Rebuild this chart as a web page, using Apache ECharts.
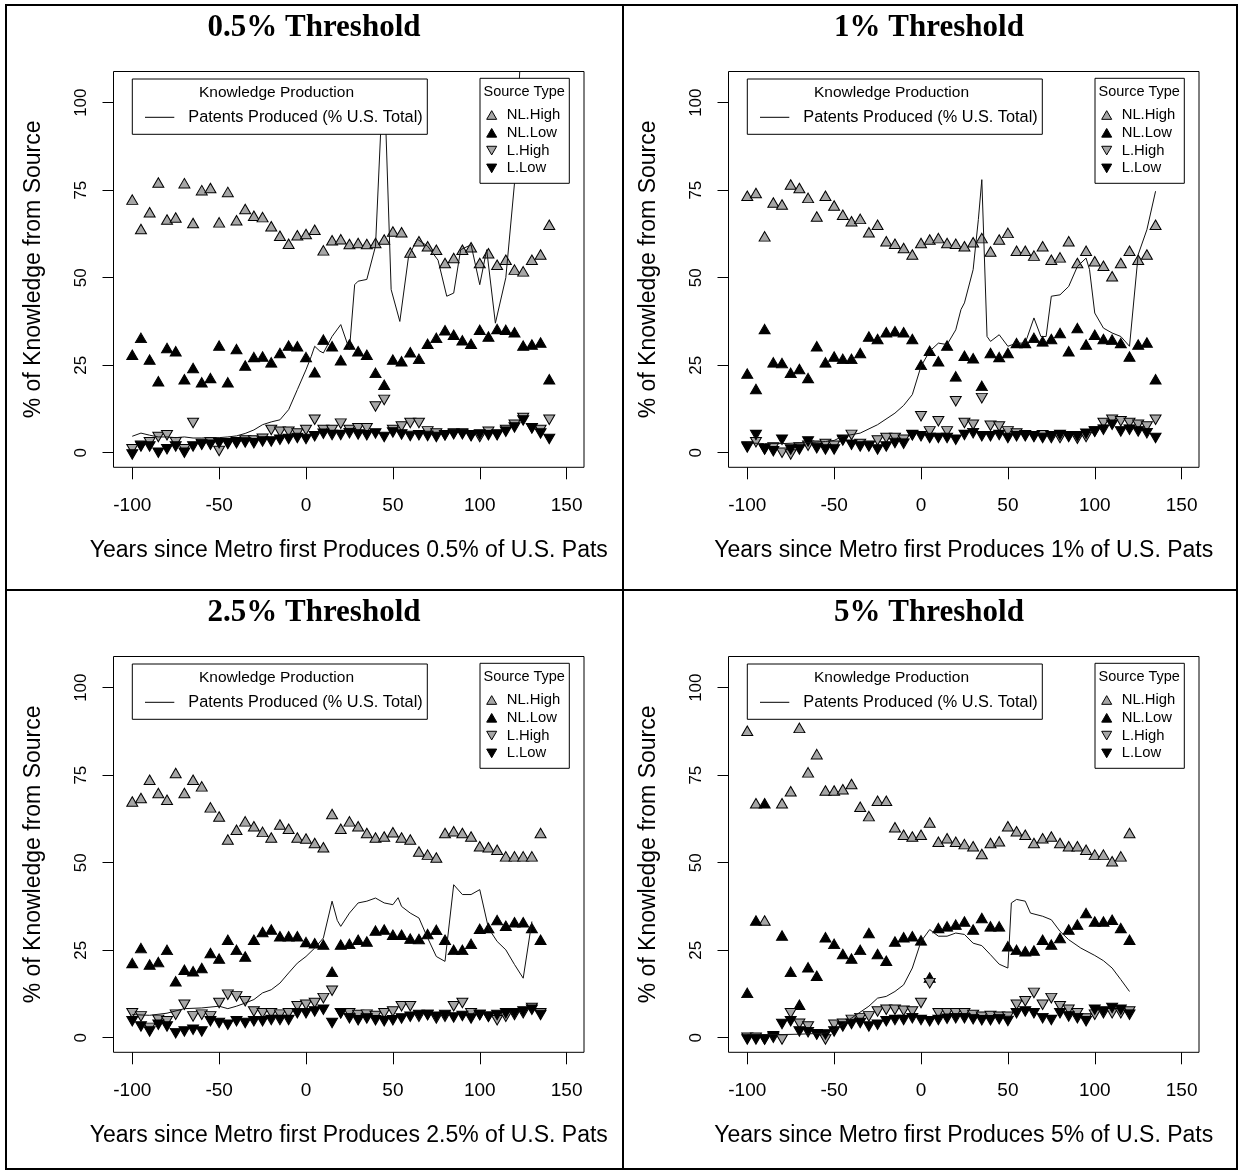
<!DOCTYPE html>
<html><head><meta charset="utf-8">
<script src="https://cdn.jsdelivr.net/npm/echarts@6/dist/echarts.min.js"></script>
<style>html,body{margin:0;padding:0;background:#fff}#c{width:1239px;height:1171px}</style>
</head><body><div id="c"></div>
<script>
// ---------- data ----------
const years = [-100,-95,-90,-85,-80,-75,-70,-65,-60,-55,-50,-45,-40,-35,-30,-25,-20,-15,-10,-5,0,5,10,15,20,25,30,35,40,45,50,55,60,65,70,75,80,85,90,95,100,105,110,115,120,125,130,135,140];
const xTicks = [-100,-50,0,50,100,150];
const yTicks = [0,25,50,75,100];
const titles = ['0.5% Threshold','1% Threshold','2.5% Threshold','5% Threshold'];
const xNames = ['Years since Metro first Produces 0.5% of U.S. Pats','Years since Metro first Produces 1% of U.S. Pats','Years since Metro first Produces 2.5% of U.S. Pats','Years since Metro first Produces 5% of U.S. Pats'];
const yName = '% of Knowledge from Source';
const sourceNames = ['NL.High','NL.Low','L.High','L.Low'];
const lineName = 'Patents Produced (% U.S. Total)';
const legendTitleLine = 'Knowledge Production';
const legendTitleSource = 'Source Type';

// 0.5% threshold
const nlHigh1 = [72.3,63.9,68.7,77.2,66.6,67.2,77.0,65.6,75.0,75.6,65.8,74.5,66.4,69.6,67.7,67.3,64.7,62.0,59.7,62.1,62.5,63.7,57.8,60.7,61.0,59.6,59.9,59.6,59.9,60.9,63.2,63.0,57.2,60.4,59.0,58.0,54.2,55.6,58.0,58.7,54.2,57.0,53.7,55.1,52.3,51.8,55.1,56.6,65.1];
const nlLow1 = [28.0,32.8,26.6,20.4,29.9,29.0,21.0,24.2,20.1,21.3,30.6,20.1,29.6,24.9,27.3,27.5,25.8,28.5,30.6,30.4,27.3,23.0,32.3,30.4,26.4,30.9,29.0,28.0,22.8,19.4,26.6,26.1,28.7,26.8,31.1,32.8,35.0,33.7,32.1,31.1,35.1,33.2,35.3,35.1,34.4,30.6,30.9,31.5,21.0];
const lHigh1 = [1,2,3,4.5,5,3,1,8.5,2.5,3,0.5,2.5,3,3.5,3.5,4,6.5,6,6,5.5,6.5,9.4,6.5,6.5,8.3,6.5,7,7,13.2,15.1,6.5,7.5,8.5,8.5,6.1,5.5,5,5.5,5.5,5,4.5,6,5,6.5,8,9.9,7,6.5,9.4];
const lLow1 = [-0.5,1.8,1.8,0,1,1.8,0,1.8,2.3,2.3,2.7,2.7,2.7,2.9,2.7,3.2,3.2,3.7,3.9,4.2,3.9,4.7,5.4,5.1,5.1,5.6,5.2,5.0,5.5,4.5,5.8,5.2,4.8,5.0,4.8,4.5,5.0,5.3,5.3,4.7,5.2,5.0,5.2,6.0,7.2,9.2,7.0,5.5,3.9];
const patX1 = [-100,-95,-90,-85,-80,-75,-70,-65,-60,-55,-50,-45,-40,-35,-30,-25,-20,-15,-10,-5,0,3,5,8,10,15,20,25,28,30,35,40,43,44.5,46,49,54,59,64,70,76,81,85,89,95,100,104,109,115,120,125,140];
const patY1 = [4.7,5.6,5,4.5,4.5,4.3,4.5,4.2,4.2,4.3,4.3,4.5,4.8,5.5,6.5,8,8.8,9.4,12.3,18,23.7,27.5,30.4,29,28.5,33.2,36.6,29.4,48,49,49.5,59,92,101,92,46.6,37.5,56,61,59,55,44.7,45.6,58,59.4,48,58,37,50,77,130,130];

// 1% threshold
const nlHigh2 = [73.4,74.2,61.8,71.5,70.9,76.6,75.6,72.8,67.5,73.4,70.6,68.0,66.1,66.8,63.0,65.1,60.4,59.7,58.5,56.6,59.9,60.9,61.3,59.9,59.7,59.0,60.1,61.3,57.5,60.9,62.8,57.7,57.7,56.3,59.0,55.1,55.8,60.4,54.2,57.7,54.7,53.4,50.4,54.2,57.7,55.1,56.6,65.1];
const nlLow2 = [22.6,18.2,35.3,25.8,25.6,22.8,23.9,21.3,30.4,25.8,27.5,26.8,26.8,28.5,33.2,32.5,34.4,34.7,34.4,32.5,25.1,29.1,26.1,30.6,21.8,27.7,27.0,19.1,28.5,27.3,28.5,31.3,31.3,32.8,31.8,32.5,34.2,29.0,35.6,30.9,33.7,32.5,32.3,31.3,27.5,30.9,31.5,21.0];
const lHigh2 = [1.5,3,1,1.5,0,-0.5,1.5,2,2,2.5,2,3.5,5.1,2.5,2,3.5,4.2,4.2,3.7,5,10.4,6.1,9.0,6.1,14.7,8.5,8,15.6,7.7,7.5,6.1,5.5,5,4.5,5,4.2,4.2,4.5,4,4.5,6,8.5,9.4,9,8.5,8,7.5,9.4];
const lLow2 = [1.8,5.1,0.9,0.4,3.7,0.9,0.9,3.2,1.3,0.9,0.9,3.7,2.3,1.8,1.8,0.9,1.8,2.8,2.6,5.1,4.7,4.2,4.2,4.2,3.7,5.1,5.6,4.7,4.7,5.1,4.2,4.7,4.7,4.7,4.2,4.7,5.1,4.7,4.7,5.4,6.1,6.6,8.0,6.1,6.6,6.1,5.6,4.2];
const patX2 = [-100,-90,-80,-70,-60,-55,-50,-45,-35,-25,-15,-10,-5,0,5,10,15,20,23,25,30,33,35,38,40,45,50,55,60,65,69,72,75,80,85,90,95,97,100,105,110,115,120,125,130,135];
const patY2 = [2.8,2.6,2.6,2.8,3,3.2,3.5,4.7,5.6,8,11.3,13.5,16.6,24.7,29,31.3,30.9,35.1,40.9,42.8,52.3,66.6,78,33.2,31.8,33.7,30.4,31.3,31.3,38.5,33.2,33.2,44.7,45.1,47.5,53.2,55.6,52.3,39.9,35.6,34.2,33.2,30.4,56.6,63.7,74.7];

// 2.5% threshold
const nlHigh3 = [67.5,68.5,73.7,69.9,68.0,75.6,69.9,73.7,71.8,65.8,63.2,56.6,59.4,61.8,60.4,58.8,57.2,60.9,59.7,57.2,56.9,55.6,54.4,63.9,59.7,61.8,60.4,58.5,57.2,57.5,58.7,57.2,56.6,53.2,52.3,51.5,58.5,59.0,58.5,57.5,54.7,54.4,53.7,51.8,51.8,51.8,51.8,58.5];
const nlLow3 = [21.3,25.6,20.9,21.6,25.1,16.1,19.4,19.0,19.9,24.2,22.6,28.0,25.1,23.2,28.0,30.2,30.9,29.0,29.0,29.0,27.3,27.0,26.6,18.8,26.6,26.8,28.0,27.5,30.6,30.9,29.4,29.4,28.3,28.2,29.6,30.8,28.0,25.1,25.1,26.8,31.1,31.3,33.6,32.0,33.0,33.0,31.3,28.0];
const lHigh3 = [7.0,6.1,2.8,5.1,4.7,6.6,9.4,6.1,6.6,6.1,9.9,12.3,11.8,10.4,7.5,7.0,7.0,6.6,7.0,9.0,9.4,9.9,11.3,13.4,7.0,7.0,6.5,6.6,6.2,7.0,7.5,9.0,9.0,6.0,6.5,5.5,6.0,9.0,9.9,7.0,6.5,6.0,5.0,6.0,6.5,7.0,8.5,7.0];
const lLow3 = [4.7,3.2,1.8,3.7,3.2,1.3,1.8,2.3,1.8,4.7,4.2,3.7,4.7,4.2,4.7,4.7,5.1,5.1,5.1,7.0,7.0,7.5,8.0,4.2,7.0,5.6,5.0,5.5,5.0,4.7,5.0,5.5,6.0,6.5,6.5,6.0,6.5,5.8,6.2,5.5,6.5,6.0,6.5,7.0,7.0,7.5,8.0,6.5];
const patX3 = [-100,-90,-80,-70,-60,-50,-45,-40,-35,-30,-25,-20,-15,-10,-5,0,5,10,15,18,20,25,30,35,40,45,50,53,55,60,65,70,75,80,85,90,95,100,105,110,115,120,125,130];
const patY3 = [6.6,6.4,7,8.3,8.5,9,8.3,9,9.9,10.9,12.8,13.7,15.6,18.5,21.3,23.2,25.6,28.5,39,33.5,31.8,35.6,38.5,39,39.9,38.5,38,40,37.5,35.6,34.2,28.5,23.2,21.8,43.7,40.9,40.9,42.3,31.3,27.5,25.1,20.9,17,33.2];

// 5% threshold
const nlHigh4 = [87.7,67.0,33.5,null,67.0,70.4,88.5,75.8,81.0,70.6,70.6,71.0,72.5,66.0,63.3,67.7,67.7,60.1,58.0,57.5,58.0,61.5,56.0,57.0,56.0,55.3,54.7,52.5,55.6,56.1,60.4,59.0,58.0,55.6,57.0,57.5,55.6,54.7,54.7,53.7,52.3,52.3,50.4,51.8,58.5];
const nlLow4 = [12.8,33.5,67.0,null,29.2,18.8,9.4,20.1,17.7,28.7,26.8,23.9,22.6,25.1,29.9,23.9,22.0,27.5,28.7,29.0,27.8,17.2,31.3,31.8,32.3,33.2,30.9,34.2,31.8,31.8,26.1,25.1,24.7,24.9,28.0,26.6,28.5,30.9,32.3,35.6,33.2,33.2,33.7,31.3,28.0];
const lHigh4 = [0,0,-0.5,0,-0.5,7,4,3.2,1,-0.5,3.7,4,5.1,5.6,6.1,7.5,8.0,8.0,7.7,7.5,9.9,15.6,7.0,7.0,7.0,7.0,6.5,6.0,6.2,6.0,6.0,9.4,10.4,12.8,9.4,11.3,9.0,8.0,7.0,5.5,6.6,7.0,7.0,7.0,7.5];
const lLow4 = [-0.5,-0.5,-0.5,0.4,3.9,4.7,1.8,1.6,0.9,0.9,1.8,3.2,3.9,4.2,3.2,3.7,4.7,5.1,5.1,5.6,5.1,4.7,5.1,5.4,5.6,5.6,5.3,5.0,5.0,5.3,4.8,7.0,7.5,7.0,5.6,5.1,7.0,6.1,5.6,4.7,8.0,7.5,8.5,8.0,6.6];
const patX4 = [-100,-90,-80,-70,-60,-55,-50,-45,-40,-30,-25,-20,-15,-10,-5,0,5,10,15,20,25,30,35,40,45,50,52,55,60,63,70,75,80,85,92,100,105,110,115,120];
const patY4 = [0.9,0.9,0.9,1,1.2,1.3,2.3,3.8,5.6,9,11.3,11.8,13.2,15.1,19.9,27.5,30.9,29,29,29.9,29.5,27,26.3,23.7,21,19.9,38.5,39.5,39,35.6,34.7,33.7,30.4,28,25.6,23.5,22,19.9,16.6,13.2];

// ---------- build ----------
const panels = [
  {nl:[nlHigh1,nlLow1,lHigh1,lLow1], px:patX1, py:patY1},
  {nl:[nlHigh2,nlLow2,lHigh2,lLow2], px:patX2, py:patY2},
  {nl:[nlHigh3,nlLow3,lHigh3,lLow3], px:patX3, py:patY3},
  {nl:[nlHigh4,nlLow4,lHigh4,lLow4], px:patX4, py:patY4}
];
const SANS = '"Liberation Sans", Arial, sans-serif';
const SERIF = '"Liberation Serif", "Times New Roman", serif';
const GREY = '#a6a6a6';
const UP = 'path://M5,0L10,8.66L0,8.66Z';
const DOWN = 'path://M0,0L10,0L5,8.66Z';
const markStyle = [
  {symbol:UP, fill:GREY}, {symbol:UP, fill:'#000'},
  {symbol:DOWN, fill:GREY}, {symbol:DOWN, fill:'#000'}
];
const offs = [[0,0],[615,0],[0,585],[615,585]];
const GW = 470.5, GH = 395.8, GL = 113.5, GT = 71.5;

function pairs(xs, ys){ const out=[]; for(let k=0;k<ys.length;k++){ if(ys[k]!=null) out.push([xs[k], ys[k]]); } return out; }

const grids=[], xAxes=[], yAxes=[], series=[], titleOpts=[], graphics=[];
panels.forEach((p,i)=>{
  const [dx,dy] = offs[i];
  grids.push({left:GL+dx, top:GT+dy, width:GW, height:GH, show:true, borderColor:'#000', borderWidth:1, backgroundColor:'transparent'});
  xAxes.push({type:'value', gridIndex:i, min:-110.8, max:160, position:'bottom',
    axisLine:{show:false, onZero:false}, splitLine:{show:false},
    axisTick:{show:true, customValues:xTicks, length:12, lineStyle:{color:'#000', width:1}},
    axisLabel:{customValues:xTicks, margin:29, fontSize:19, color:'#000', fontFamily:SANS},
    name:xNames[i], nameLocation:'middle', nameGap:72,
    nameTextStyle:{fontSize:23, color:'#000', fontFamily:SANS}});
  yAxes.push({type:'value', gridIndex:i, min:-4.17, max:108.9, position:'left',
    axisLine:{show:false, onZero:false}, splitLine:{show:false},
    axisTick:{show:true, customValues:yTicks, length:11, lineStyle:{color:'#000', width:1}},
    axisLabel:{customValues:yTicks, rotate:90, margin:24, fontSize:17, color:'#000', fontFamily:SANS},
    name:yName, nameLocation:'middle', nameGap:68, nameRotate:90,
    nameTextStyle:{fontSize:23, color:'#000', fontFamily:SANS}});
  p.nl.forEach((arr,s)=>{
    series.push({type:'scatter', name:sourceNames[s], xAxisIndex:i, yAxisIndex:i,
      data:pairs(years, arr), symbol:markStyle[s].symbol, symbolSize:[11,9.5],
      itemStyle:{color:markStyle[s].fill, borderColor:'#000', borderWidth:1, opacity:1},
      z:2+s*0.01, animation:false});
  });
  series.push({type:'line', name:lineName, xAxisIndex:i, yAxisIndex:i,
    data:pairs(p.px, p.py), symbol:'none', clip:true,
    lineStyle:{color:'#111', width:1}, z:3, animation:false});
  titleOpts.push({text:titles[i], left:314+dx, top:12+dy, textAlign:'center', padding:0,
    textStyle:{fontFamily:SERIF, fontWeight:'bold', fontSize:31, color:'#000'}});

  // legend: Knowledge Production
  const z = 100;
  graphics.push({type:'rect', shape:{x:132.3+dx, y:79+dy, width:295, height:55.3}, style:{fill:'#fff', stroke:'#000', lineWidth:1}, z:z});
  graphics.push({type:'text', x:276.5+dx, y:92.7+dy, style:{text:legendTitleLine, fontSize:15.5, fontFamily:SANS, fill:'#000', align:'center', verticalAlign:'middle'}, z:z+1});
  graphics.push({type:'line', shape:{x1:145+dx, y1:117.3+dy, x2:174.3+dx, y2:117.3+dy}, style:{stroke:'#000', lineWidth:1}, z:z+1});
  graphics.push({type:'text', x:188.3+dx, y:117.3+dy, style:{text:lineName, fontSize:16.3, fontFamily:SANS, fill:'#000', align:'left', verticalAlign:'middle'}, z:z+1});
  // legend: Source Type
  graphics.push({type:'rect', shape:{x:480+dx, y:78.3+dy, width:89.3, height:105}, style:{fill:'#fff', stroke:'#000', lineWidth:1}, z:z});
  graphics.push({type:'text', x:524.2+dx, y:91.7+dy, style:{text:legendTitleSource, fontSize:14.5, fontFamily:SANS, fill:'#000', align:'center', verticalAlign:'middle'}, z:z+1});
  sourceNames.forEach((nm,s)=>{
    const cy = 115 + s*17.8 + dy, cx = 491.7 + dx, w = 10, h = 8.66;
    const up = s < 2;
    const pts = up ? [[cx,cy-h/2],[cx+w/2,cy+h/2],[cx-w/2,cy+h/2]] : [[cx-w/2,cy-h/2],[cx+w/2,cy-h/2],[cx,cy+h/2]];
    graphics.push({type:'polygon', shape:{points:pts}, style:{fill:markStyle[s].fill, stroke:'#000', lineWidth:1}, z:z+1});
    graphics.push({type:'text', x:506.7+dx, y:cy, style:{text:nm, fontSize:14.8, fontFamily:SANS, fill:'#000', align:'left', verticalAlign:'middle'}, z:z+1});
  });
});
// outer frame of the 2x2 figure table
const frame = {stroke:'#000', lineWidth:2};
graphics.push({type:'rect', shape:{x:6, y:5, width:1231, height:1164}, style:{fill:'none', stroke:'#000', lineWidth:2}, z:90});
graphics.push({type:'line', shape:{x1:623, y1:5, x2:623, y2:1169}, style:frame, z:90});
graphics.push({type:'line', shape:{x1:6, y1:590, x2:1237, y2:590}, style:frame, z:90});

const chart = echarts.init(document.getElementById('c'), null, {renderer:'canvas'});
chart.setOption({
  backgroundColor:'#fff',
  animation:false,
  textStyle:{fontFamily:SANS},
  title:titleOpts,
  grid:grids, xAxis:xAxes, yAxis:yAxes, series:series,
  graphic:graphics
});
</script></body></html>
